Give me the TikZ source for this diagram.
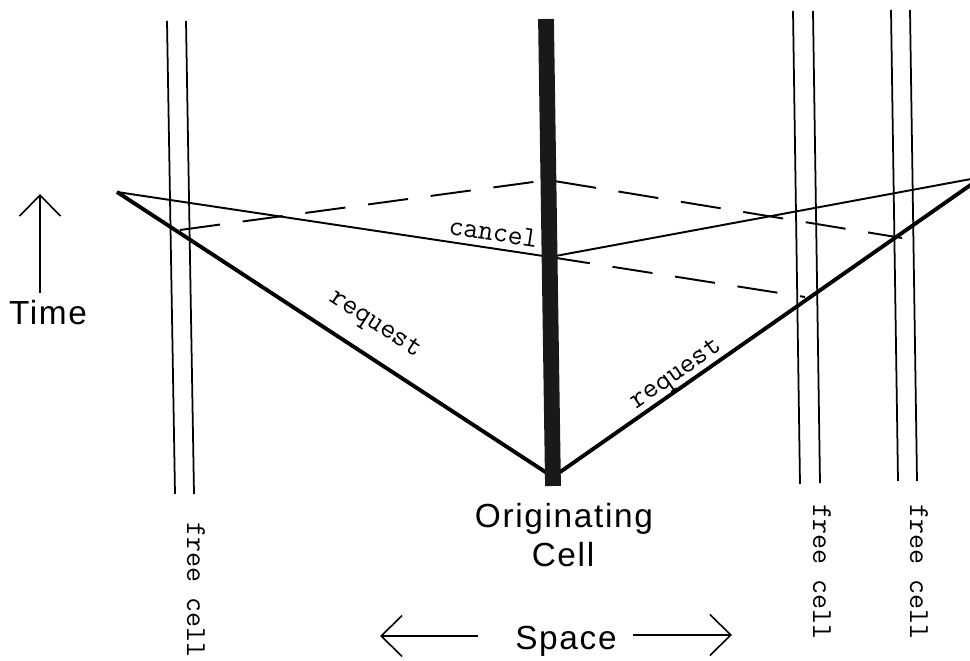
\documentclass[tikz,border=0pt]{standalone}
\usepackage{fontspec}
\usepackage{tikz}
\usetikzlibrary{arrows.meta,positioning}
\newfontfamily\labelsans[LetterSpace=5]{Liberation Sans}

\begin{document}
\begin{tikzpicture}[
  x=0.02cm, y=-0.02cm,
  sanslabel/.style={font=\labelsans\fontsize{19pt}{22pt}\selectfont, inner sep=2pt},
  monolabel/.style={font=\ttfamily\fontsize{16.5pt}{19pt}\selectfont, inner sep=1.5pt},
  cellline/.style={line width=1pt},
  cellbar/.style={line width=9pt, draw=black!90},
  reqline/.style={line width=2.2pt},
  canline/.style={line width=1.1pt},
  candash/.style={line width=1.1pt, dash pattern=on 23pt off 13pt},
  axisarr/.style={line width=0.9pt, -{Straight Barb[length=0.42cm, width=0.82cm]}}
]
\useasboundingbox (0,0) rectangle (970,661);
\clip (0,0) rectangle (970,661);
\foreach \xt/\xb/\yt/\yb in {167/175/21/494, 186/194/21/494, 793/800/11/484, 813/820/11/483, 891/898/10/481, 910/917/10/481}
  \draw[cellline] (\xt,\yt) -- (\xb,\yb);
\coordinate (apexL) at (117,192);
\coordinate (orig) at (553,477);
\coordinate (apexR) at (982,177);
\coordinate (cancelPt) at (550,257);
\coordinate (cancelTop) at (548,180);
\coordinate (dashL) at (180,230);
\coordinate (dashR) at (902,238);
\coordinate (dashR2) at (805,297);
\coordinate (barTop) at (546,19);
\coordinate (barBot) at (553,486);
\draw[reqline] (apexL) -- node[monolabel, sloped, above=8pt, pos=0.553] (reqLlabel) {request} (orig);
\draw[reqline] (orig) -- node[monolabel, sloped, above=-2pt, pos=0.305] (reqRlabel) {request} (apexR);
\draw[canline] (apexL) -- node[monolabel, sloped, above=2pt, pos=0.864] (cancellabel) {cancel} (cancelPt) -- (apexR);
\draw[candash] (dashL) -- (cancelTop) -- (dashR);
\draw[candash] (cancelPt) -- (dashR2);
\draw[cellbar] (barTop) -- (barBot);
\node[monolabel, rotate=-90, anchor=west] (fcL) at (196,520) {free cell};
\node[monolabel, rotate=-90, anchor=west] (fcR1) at (822,502) {free cell};
\node[monolabel, rotate=-90, anchor=west] (fcR2) at (919,502) {free cell};
\node[sanslabel, anchor=base] (timelabel) at (48,325) {Time};
\node[sanslabel, anchor=base] (origlabel) at (564,528) {Originating};
\node[sanslabel, anchor=base] (celllabel) at (563,567) {Cell};
\node[sanslabel, anchor=base] (spacelabel) at (566,649) {Space};
\coordinate (timeTail) at (40,293);
\coordinate (timeTip) at (40,194);
\coordinate (spaceTailL) at (478,636);
\coordinate (spaceTipL) at (380,636);
\coordinate (spaceTailR) at (633,635);
\coordinate (spaceTipR) at (732,635);
\draw[axisarr] (timeTail) -- (timeTip);
\draw[axisarr] (spaceTailL) -- (spaceTipL);
\draw[axisarr] (spaceTailR) -- (spaceTipR);
\end{tikzpicture}
\end{document}
